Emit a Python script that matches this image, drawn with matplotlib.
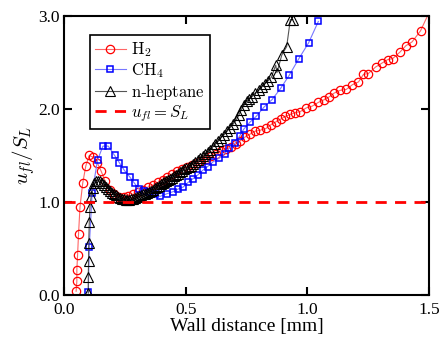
import matplotlib
matplotlib.use("Agg")
import matplotlib.pyplot as plt

plt.rcParams['font.family'] = ['Liberation Serif', 'DejaVu Serif']
plt.rcParams['mathtext.fontset'] = 'cm'

# H2
h2_x = [0.050, 0.053, 0.053, 0.056, 0.060, 0.066, 0.077, 0.090, 0.104, 0.120,
        0.137, 0.153, 0.170, 0.188, 0.207, 0.226, 0.245, 0.265, 0.285, 0.305,
        0.325, 0.345, 0.365, 0.385, 0.405, 0.425, 0.445, 0.465, 0.485, 0.505,
        0.525, 0.545, 0.565, 0.585, 0.605, 0.625, 0.645, 0.665, 0.685, 0.705,
        0.725, 0.745, 0.765, 0.785, 0.805, 0.830, 0.850, 0.870, 0.890, 0.910,
        0.930, 0.950, 0.970, 0.995, 1.020, 1.045, 1.070, 1.090, 1.110, 1.135,
        1.160, 1.185, 1.210, 1.230, 1.250, 1.280, 1.305, 1.330, 1.350, 1.380,
        1.405, 1.430, 1.465, 1.520]
h2_y = [0.04, 0.15, 0.27, 0.43, 0.66, 0.95, 1.20, 1.39, 1.50, 1.48,
        1.42, 1.33, 1.22, 1.13, 1.08, 1.05, 1.05, 1.06, 1.08, 1.11,
        1.13, 1.16, 1.18, 1.21, 1.24, 1.27, 1.30, 1.33, 1.35, 1.38,
        1.40, 1.42, 1.44, 1.46, 1.49, 1.52, 1.55, 1.57, 1.59, 1.62,
        1.66, 1.70, 1.73, 1.76, 1.77, 1.79, 1.83, 1.86, 1.89, 1.92,
        1.94, 1.96, 1.97, 2.01, 2.03, 2.07, 2.10, 2.13, 2.17, 2.20,
        2.21, 2.26, 2.29, 2.37, 2.38, 2.45, 2.49, 2.53, 2.54, 2.61,
        2.68, 2.72, 2.84, 3.15]

# CH4
ch4_x = [0.100, 0.104, 0.116, 0.138, 0.160, 0.182, 0.208, 0.228, 0.248, 0.270,
         0.290, 0.308, 0.328, 0.350, 0.372, 0.395, 0.425, 0.448, 0.470, 0.490,
         0.510, 0.530, 0.550, 0.570, 0.590, 0.612, 0.637, 0.660, 0.680, 0.702,
         0.722, 0.738, 0.765, 0.790, 0.822, 0.855, 0.890, 0.925, 0.965, 1.005,
         1.045]
ch4_y = [0.03, 0.52, 1.10, 1.45, 1.60, 1.60, 1.50, 1.42, 1.34, 1.27,
         1.20, 1.14, 1.12, 1.11, 1.08, 1.06, 1.09, 1.11, 1.14, 1.16,
         1.21, 1.25, 1.29, 1.34, 1.38, 1.43, 1.47, 1.52, 1.58, 1.63,
         1.71, 1.78, 1.86, 1.92, 2.02, 2.10, 2.22, 2.36, 2.54, 2.71,
         2.94]

# n-heptane
hep_x = [0.100, 0.100, 0.101, 0.102, 0.104, 0.107, 0.112, 0.118, 0.125, 0.133,
         0.141, 0.149, 0.157, 0.165, 0.173, 0.181, 0.189, 0.197, 0.205, 0.213,
         0.221, 0.229, 0.237, 0.245, 0.253, 0.261, 0.269, 0.277, 0.285, 0.293,
         0.301, 0.309, 0.317, 0.325, 0.333, 0.341, 0.349, 0.357, 0.365, 0.373,
         0.381, 0.389, 0.397, 0.405, 0.413, 0.421, 0.429, 0.437, 0.445, 0.453,
         0.461, 0.469, 0.477, 0.485, 0.494, 0.503, 0.512, 0.521, 0.530, 0.540,
         0.550, 0.560, 0.570, 0.580, 0.590, 0.600, 0.611, 0.622, 0.633, 0.645,
         0.657, 0.670, 0.683, 0.696, 0.708, 0.718, 0.728, 0.740, 0.750, 0.762,
         0.772, 0.785, 0.800, 0.812, 0.825, 0.838, 0.852, 0.870, 0.875, 0.895,
         0.915, 0.930, 0.940]
hep_y = [0.02, 0.19, 0.36, 0.56, 0.78, 0.95, 1.06, 1.15, 1.20, 1.23,
         1.23, 1.22, 1.20, 1.18, 1.16, 1.14, 1.12, 1.10, 1.08, 1.07,
         1.05, 1.04, 1.03, 1.03, 1.02, 1.02, 1.02, 1.03, 1.03, 1.04,
         1.05, 1.06, 1.07, 1.08, 1.09, 1.10, 1.11, 1.12, 1.13, 1.15,
         1.16, 1.17, 1.19, 1.20, 1.21, 1.22, 1.24, 1.25, 1.26, 1.28,
         1.29, 1.30, 1.32, 1.33, 1.35, 1.36, 1.38, 1.39, 1.41, 1.43,
         1.45, 1.47, 1.49, 1.51, 1.54, 1.56, 1.59, 1.62, 1.65, 1.69,
         1.72, 1.76, 1.80, 1.84, 1.88, 1.93, 1.99, 2.04, 2.08, 2.11,
         2.13, 2.17, 2.20, 2.24, 2.27, 2.30, 2.34, 2.47, 2.39, 2.58,
         2.67, 2.96, 2.96]

fig = plt.figure(figsize=(4.41, 3.45), dpi=100)
ax = fig.add_axes([0.145, 0.145, 0.828, 0.809])

ax.plot(h2_x, h2_y, '-o', color='#ff6666', lw=0.8, mfc='none', mec='red',
        mew=0.9, ms=6, label=r'$\mathrm{H_2}$')
ax.plot(ch4_x, ch4_y, '-s', color='#7777ff', lw=0.8, mfc='none', mec='blue',
        mew=1.1, ms=4.5, label=r'$\mathrm{CH_4}$')
ax.plot(hep_x, hep_y, '-^', color='#555555', lw=0.8, mfc='none', mec='black',
        mew=0.8, ms=6.5, label=r'$\mathrm{n}$-$\mathrm{heptane}$')
ax.axhline(1.0, color='red', ls=(0, (4, 3)), lw=2, label=r'$u_{fl}=S_L$')

ax.set_xlim(0, 1.5)
ax.set_ylim(0, 3.0)
ax.set_xticks([0, 0.5, 1.0, 1.5])
ax.set_yticks([0, 1.0, 2.0, 3.0])
ax.set_xticklabels(['0.0', '0.5', '1.0', '1.5'])
ax.set_yticklabels(['0.0', '1.0', '2.0', '3.0'])
ax.tick_params(direction='in', length=6, width=1.5, top=True, right=True,
               labelsize=12.5)
ax.tick_params(axis='x', pad=5)
ax.tick_params(axis='y', pad=3)
for s in ax.spines.values():
    s.set_linewidth(1.5)

ax.set_xlabel('Wall distance [mm]', fontsize=14, labelpad=0)
ax.set_ylabel(r'$u_{fl}/S_L$', fontsize=15, labelpad=1)

leg = ax.legend(loc='upper left', bbox_to_anchor=(0.07, 0.93), fontsize=12,
                frameon=True, fancybox=False, framealpha=1, edgecolor='black',
                handlelength=1.9, handletextpad=0.3, borderpad=0.3,
                labelspacing=0.1, borderaxespad=0)
leg.get_frame().set_linewidth(1.2)

fig.savefig('out.png', dpi=100)
